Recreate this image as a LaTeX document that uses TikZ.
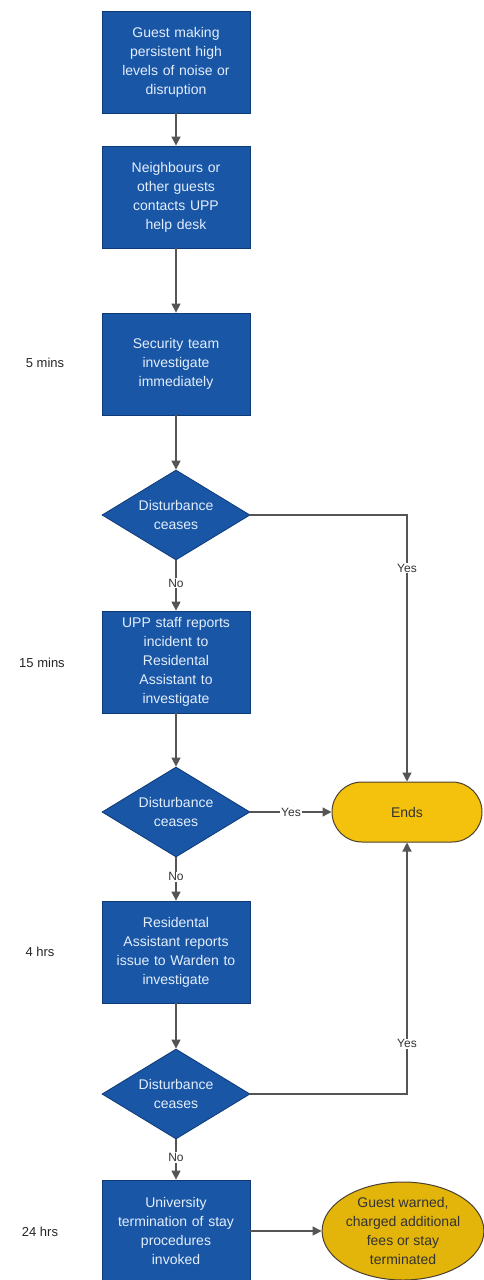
\documentclass[tikz,border=0pt]{standalone}
\usepackage{fontspec}
\setmainfont{Liberation Sans}
\usetikzlibrary{shapes.geometric,arrows.meta}
\definecolor{boxblue}{HTML}{1A56A6}
\definecolor{boxedge}{HTML}{0E3A78}
\definecolor{boxtext}{HTML}{E2EEFB}
\definecolor{endsfill}{HTML}{F4C20D}
\definecolor{finfill}{HTML}{E3B40A}
\definecolor{yedge}{HTML}{4A4030}
\definecolor{linegray}{HTML}{555555}
\begin{document}
\begin{tikzpicture}[x=1pt,y=-1pt,
  stepbox/.style={draw=boxedge,line width=0.8pt,fill=boxblue,text=boxtext,
    minimum width=148pt,minimum height=102pt,text width=140pt,align=center,
    font=\fontsize{14}{19}\selectfont,inner sep=2pt},
  decision/.style={diamond,aspect=1.64,draw=boxedge,line width=0.8pt,fill=boxblue,text=boxtext,
    minimum width=148pt,minimum height=90pt,inner sep=0pt,align=center,
    font=\fontsize{14}{19}\selectfont},
  endnode/.style={draw=yedge,line width=1pt,fill=endsfill,text=black!80,
    minimum width=150pt,minimum height=60pt,rounded corners=30pt,
    font=\fontsize{14}{19}\selectfont},
  finnode/.style={ellipse,draw=yedge,line width=1pt,fill=finfill,text=black!80,
    minimum width=160pt,minimum height=98pt,inner sep=0pt,align=center,
    font=\fontsize{14}{19}\selectfont},
  conn/.style={draw=linegray,line width=1.3pt,-{Triangle[length=9pt,width=9pt]}},
  elab/.style={fill=white,inner sep=1pt,text=black!80,font=\fontsize{12}{14}\selectfont},
  tlab/.style={text=black!85,font=\fontsize{13}{15}\selectfont}
]
\useasboundingbox (0,0) rectangle (484,1280);
\fill[white] (0,0) rectangle (484,1280);

\node[stepbox] (b1) at (176,62) {Guest making\\persistent high\\levels of noise or\\disruption};
\node[stepbox] (b2) at (176,197) {Neighbours or\\other guests\\contacts UPP\\help desk};
\node[stepbox] (b3) at (176,364) {Security team\\investigate\\immediately};
\node[decision] (d1) at (176,515) {Disturbance\\ceases};
\node[stepbox] (b4) at (176,662) {UPP staff reports\\incident to\\Residental\\Assistant to\\investigate};
\node[decision] (d2) at (176,812) {Disturbance\\ceases};
\node[stepbox] (b5) at (176,952) {Residental\\Assistant reports\\issue to Warden to\\investigate};
\node[decision] (d3) at (176,1094) {Disturbance\\ceases};
\node[stepbox] (b6) at (176,1231) {University\\termination of stay\\procedures\\invoked};
\node[endnode] (ends) at (407,812) {Ends};
\node[finnode] (fin) at (403,1231) {Guest warned,\\charged additional\\fees or stay\\terminated};

\node[tlab] (t1) at (45,363) {5 mins};
\node[tlab] (t2) at (42,663) {15 mins};
\node[tlab] (t3) at (40,952) {4 hrs};
\node[tlab] (t4) at (40,1232) {24 hrs};

\draw[conn] (b1) -- (b2);
\draw[conn] (b2) -- (b3);
\draw[conn] (b3) -- (d1);
\draw[conn] (d1) -- node[elab,pos=0.45] {No} (b4);
\draw[conn] (b4) -- (d2);
\draw[conn] (d2) -- node[elab,pos=0.45] {No} (b5);
\draw[conn] (b5) -- (d3);
\draw[conn] (d3) -- node[elab,pos=0.45] {No} (b6);
\draw[conn] (d2) -- node[elab] {Yes} (ends);
\draw[conn] (d1.east) -| node[elab,pos=0.6] {Yes} (ends.north);
\draw[conn] (d3.east) -| node[elab,pos=0.6] {Yes} (ends.south);
\draw[conn] (b6) -- (fin);
\end{tikzpicture}
\end{document}
